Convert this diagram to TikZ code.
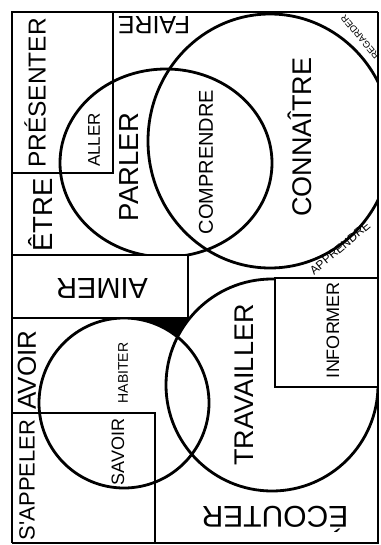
\documentclass[tikz,border=0pt]{standalone}
\usepackage{fontspec}
\newfontfamily\wordfont{Liberation Sans}
\begin{document}
\begin{tikzpicture}
  [x=1pt,y=-1pt,line width=2.8pt,
   every node/.style={inner sep=0pt},
   word/.style={font=\wordfont\fontsize{#1}{#1}\selectfont}]
  \useasboundingbox (0,0) rectangle (380,545);

  % black corner under AIMER
  \begin{scope}
    \clip (110,318) rectangle (192,340);
    \fill (110,318) rectangle (192,340);
    \fill[white] (124,403) circle [radius=85pt];
    \fill[white] (272,385) circle [radius=106pt];
  \end{scope}

  % circles
  \begin{scope}
    \clip (12,12) rectangle (378,543);
    \draw (270,141) ellipse [x radius=122pt, y radius=127pt];
    \draw (166,163) ellipse [x radius=106pt, y radius=94pt];
    \draw (124,403) circle [radius=85pt];
    \draw (272,385) circle [radius=106pt];
  \end{scope}

  % boxes
  \draw (12,173) -| (113,12);
  \filldraw[fill=white] (12,255) rectangle (188,318);
  \filldraw[fill=white] (378,278) -| (275,387) -- (378,387);
  \draw (12,413) -| (155,543);

  % frame
  \draw (378,12) -- (12,12) -- (12,543);
  \draw[line width=1.5pt] (12,543) -| (378,12);

  \node[word=24.5,rotate=90] (presenter) at (35,93) {PRÉSENTER};
  \node[word=27.5,rotate=90] (etre) at (40,215) {ÊTRE};
  \node[word=17,rotate=90] (aller) at (94,140) {ALLER};
  \node[word=25,rotate=180] (faire) at (154,25) {FAIRE};
  \node[word=27.5,rotate=90] (parler) at (129,167) {PARLER};
  \node[word=20,rotate=90] (comprendre) at (206,162) {COMPRENDRE};
  \node[word=27,rotate=90] (connaitre) at (300,137) {CONNAÎTRE};
  \node[word=9.5,rotate=130] (regarder) at (360,37) {REGARDER};
  \node[word=12,rotate=40] (apprendre) at (340,248) {APPRENDRE};
  \node[word=29,rotate=180] (aimer) at (102,288) {AIMER};
  \node[word=18,rotate=90] (informer) at (333,330) {INFORMER};
  \node[word=27,rotate=90] (travailler) at (244,385) {TRAVAILLER};
  \node[word=14,rotate=90] (habiter) at (123,373) {HABITER};
  \node[word=26,rotate=90] (avoir) at (27,370) {AVOIR};
  \node[word=22,rotate=90] (sappeler) at (27,480) {S'APPELER};
  \node[word=18,rotate=90] (savoir) at (118,452) {SAVOIR};
  \node[word=30,rotate=180] (ecouter) at (275,519) {ÉCOUTER};
\end{tikzpicture}
\end{document}
